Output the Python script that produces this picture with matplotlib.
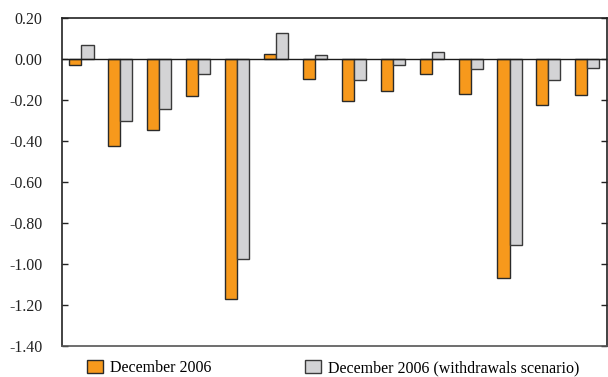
import numpy as np
import matplotlib
matplotlib.use('Agg')
import matplotlib.pyplot as plt

plt.rcParams['font.family'] = ['Liberation Serif', 'DejaVu Serif']

dec2006 = [-0.03, -0.426, -0.346, -0.18, -1.17, 0.024, -0.098, -0.205, -0.156, -0.072, -0.169, -1.07, -0.223, -0.176]
withdrawals = [0.068, -0.30, -0.243, -0.072, -0.976, 0.125, 0.021, -0.102, -0.031, 0.034, -0.049, -0.907, -0.101, -0.044]
yticks = [0.20, 0.00, -0.20, -0.40, -0.60, -0.80, -1.00, -1.20, -1.40]
labels = ['December 2006', 'December 2006 (withdrawals scenario)']

fig = plt.figure(figsize=(6.08, 3.77), dpi=100)
ax = fig.add_axes([0.102, 0.082, 0.896, 0.87])

x = np.arange(len(dec2006))
w = 0.31
ax.bar(x - w / 2, dec2006, w, color='#F7991C', edgecolor='#2a2a2a', linewidth=1.0, label=labels[0])
ax.bar(x + w / 2, withdrawals, w, color='#D3D3D5', edgecolor='#3a3a3a', linewidth=1.0, label=labels[1])
ax.axhline(0, color='#1a1a1a', linewidth=1.0)

ax.set_xlim(-0.5, len(dec2006) - 0.5)
ax.set_ylim(-1.40, 0.20)
ax.set_yticks(yticks)
ax.set_yticklabels(['%.2f' % v for v in yticks])
ax.set_xticks([])
ax.tick_params(axis='y', direction='in', length=4, width=1, pad=14, labelsize=11.5,
               colors='#222222', right=True)
for s in ['left', 'top', 'right']:
    ax.spines[s].set_color('#222222')
    ax.spines[s].set_linewidth(1.2)
ax.spines['bottom'].set_color('#555555')
ax.spines['bottom'].set_linewidth(1.2)

fig.legend(loc='lower left', bbox_to_anchor=(0.12, -0.036), ncol=2, frameon=False,
           fontsize=11.5, handlelength=1.0, handleheight=0.9, handletextpad=0.4,
           columnspacing=5.9)

fig.savefig('out.png', dpi=100)
